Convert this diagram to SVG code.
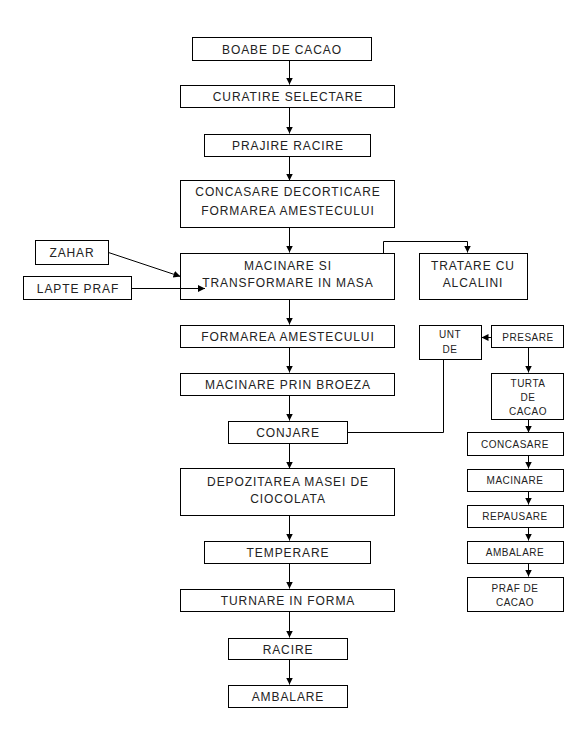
<svg xmlns="http://www.w3.org/2000/svg" width="576" height="732" viewBox="0 0 576 732">
<style>
rect{fill:#fff;stroke:#000;stroke-width:1}
text{font-family:"Liberation Sans",Arial,sans-serif;font-size:12px;letter-spacing:0.9px;fill:#222;text-anchor:middle}
text.s{font-size:10px;letter-spacing:0.5px}
.c line,.c polyline{stroke:#000;stroke-width:1;fill:none}
</style>
<defs>
<marker id="a" markerUnits="userSpaceOnUse" markerWidth="8" markerHeight="8" refX="7" refY="3.5" orient="auto"><path d="M0,0 L7,3.5 L0,7 z" fill="#000"/></marker>
</defs>
<rect x="0" y="0" width="576" height="732" style="stroke:none"/>
<g id="n1"><rect x="192.5" y="37.5" width="179" height="23"/><text x="282" y="54">BOABE DE CACAO</text></g>
<g id="n2"><rect x="180.5" y="85.5" width="214" height="22"/><text x="288" y="101">CURATIRE SELECTARE</text></g>
<g id="n3"><rect x="204.5" y="134.5" width="166" height="22"/><text x="288" y="150">PRAJIRE RACIRE</text></g>
<g id="n4"><rect x="180.5" y="180.5" width="214" height="47"/><text x="288" y="196">CONCASARE DECORTICARE</text><text x="288" y="215">FORMAREA AMESTECULUI</text></g>
<g id="n5"><rect x="35.5" y="240.5" width="73" height="24"/><text x="72" y="257">ZAHAR</text></g>
<g id="n6"><rect x="23.5" y="276.5" width="108" height="23"/><text x="78" y="293">LAPTE PRAF</text></g>
<g id="n7"><rect x="180.5" y="253.5" width="214" height="46"/><text x="288" y="270">MACINARE SI</text><text x="288" y="287">TRANSFORMARE IN MASA</text></g>
<g id="n8"><rect x="419.5" y="253.5" width="108" height="46"/><text x="473" y="270">TRATARE CU</text><text x="473" y="287">ALCALINI</text></g>
<g id="n9"><rect x="180.5" y="325.5" width="214" height="22"/><text x="288" y="341">FORMAREA AMESTECULUI</text></g>
<g id="n10"><rect x="180.5" y="373.5" width="214" height="22"/><text x="288" y="389">MACINARE PRIN BROEZA</text></g>
<g id="n11"><rect x="228.5" y="421.5" width="119" height="22"/><text x="288" y="437">CONJARE</text></g>
<g id="n12"><rect x="180.5" y="468.5" width="214" height="47"/><text x="288" y="486">DEPOZITAREA MASEI DE</text><text x="288" y="503">CIOCOLATA</text></g>
<g id="n13"><rect x="204.5" y="541.5" width="166" height="22"/><text x="288" y="557">TEMPERARE</text></g>
<g id="n14"><rect x="180.5" y="589.5" width="214" height="22"/><text x="288" y="605">TURNARE IN FORMA</text></g>
<g id="n15"><rect x="228.5" y="638.5" width="119" height="21"/><text x="288" y="654">RACIRE</text></g>
<g id="n16"><rect x="228.5" y="685.5" width="119" height="22"/><text x="288" y="701">AMBALARE</text></g>
<g id="n17"><rect x="419.5" y="325.5" width="62" height="34"/><text class="s" x="450" y="338">UNT</text><text class="s" x="450" y="353">DE</text></g>
<g id="n18"><rect x="491.5" y="325.5" width="72" height="22"/><text class="s" x="528" y="341">PRESARE</text></g>
<g id="n19"><rect x="491.5" y="373.5" width="72" height="46"/><text class="s" x="528" y="387">TURTA</text><text class="s" x="528" y="401">DE</text><text class="s" x="528" y="415">CACAO</text></g>
<g id="n20"><rect x="467.5" y="432.5" width="96" height="23"/><text class="s" x="515" y="448">CONCASARE</text></g>
<g id="n21"><rect x="467.5" y="469.5" width="96" height="22"/><text class="s" x="515" y="484">MACINARE</text></g>
<g id="n22"><rect x="467.5" y="505.5" width="96" height="22"/><text class="s" x="515" y="520">REPAUSARE</text></g>
<g id="n23"><rect x="467.5" y="541.5" width="96" height="22"/><text class="s" x="515" y="556">AMBALARE</text></g>
<g id="n24"><rect x="467.5" y="577.5" width="96" height="34"/><text class="s" x="515" y="592">PRAF  DE</text><text class="s" x="515" y="606">CACAO</text></g>
<g class="c">
<line x1="289.5" y1="61" x2="289.5" y2="84.5" marker-end="url(#a)"/>
<line x1="289.5" y1="108" x2="289.5" y2="133.5" marker-end="url(#a)"/>
<line x1="289.5" y1="157" x2="289.5" y2="180.5" marker-end="url(#a)"/>
<line x1="289.5" y1="228" x2="289.5" y2="252.5" marker-end="url(#a)"/>
<line x1="289.5" y1="300" x2="289.5" y2="324.5" marker-end="url(#a)"/>
<line x1="289.5" y1="348" x2="289.5" y2="372.5" marker-end="url(#a)"/>
<line x1="289.5" y1="396" x2="289.5" y2="420.5" marker-end="url(#a)"/>
<line x1="289.5" y1="444" x2="289.5" y2="468.5" marker-end="url(#a)"/>
<line x1="289.5" y1="516" x2="289.5" y2="540.5" marker-end="url(#a)"/>
<line x1="289.5" y1="564" x2="289.5" y2="588.5" marker-end="url(#a)"/>
<line x1="289.5" y1="612" x2="289.5" y2="637.5" marker-end="url(#a)"/>
<line x1="289.5" y1="660" x2="289.5" y2="684.5" marker-end="url(#a)"/>
<line x1="108.5" y1="252.5" x2="180.5" y2="276.5" marker-end="url(#a)"/>
<line x1="132" y1="288.5" x2="205" y2="288.5" marker-end="url(#a)"/>
<polyline points="383.5,253 383.5,241.5 467.5,241.5 467.5,252.5" marker-end="url(#a)"/>
<line x1="491" y1="337.5" x2="481.5" y2="337.5" marker-end="url(#a)"/>
<polyline points="443.5,360 443.5,432.5 348,432.5"/>
<line x1="528.5" y1="348" x2="528.5" y2="372.5" marker-end="url(#a)"/>
<line x1="528.5" y1="420" x2="528.5" y2="432.5" marker-end="url(#a)"/>
<line x1="528.5" y1="456" x2="528.5" y2="468.5" marker-end="url(#a)"/>
<line x1="528.5" y1="492" x2="528.5" y2="504.5" marker-end="url(#a)"/>
<line x1="528.5" y1="528" x2="528.5" y2="540.5" marker-end="url(#a)"/>
<line x1="528.5" y1="564" x2="528.5" y2="576.5" marker-end="url(#a)"/>
</g>
</svg>
